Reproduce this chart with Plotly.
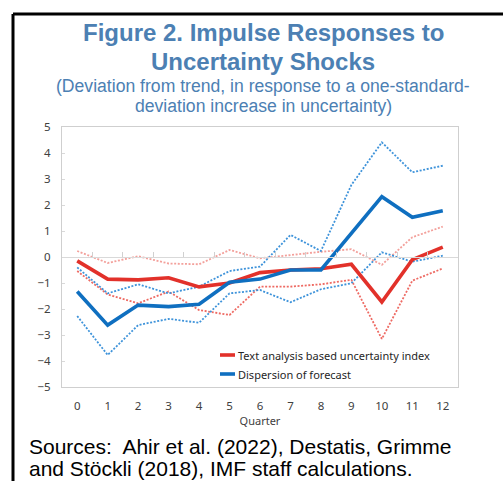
import plotly.graph_objects as go

# Quarters after the shock
quarters = list(range(13))
tick_labels = [str(q) for q in quarters]

# Text analysis based uncertainty index: point estimate and bands
text_mid = [-0.15, -0.85, -0.88, -0.8, -1.15, -1.0, -0.6, -0.5, -0.45, -0.28, -1.73, -0.1, 0.38]
text_hi = [0.23, -0.23, 0.03, -0.25, -0.28, 0.27, -0.05, 0.08, 0.2, 0.3, -0.3, 0.76, 1.17]
text_lo = [-0.54, -1.44, -1.78, -1.33, -2.04, -2.23, -1.14, -1.14, -1.05, -0.88, -3.15, -0.91, -0.44]

# Dispersion of forecast: point estimate and bands
disp_mid = [-1.33, -2.62, -1.85, -1.91, -1.82, -0.97, -0.85, -0.5, -0.5, 0.9, 2.32, 1.53, 1.78]
disp_hi = [-0.4, -1.4, -1.05, -1.4, -1.14, -0.54, -0.37, 0.85, 0.23, 2.77, 4.41, 3.26, 3.51]
disp_lo = [-2.27, -3.77, -2.62, -2.38, -2.53, -1.4, -1.27, -1.74, -1.24, -1.01, 0.18, -0.18, 0.05]

series_names = ["Text analysis based uncertainty index", "Dispersion of forecast"]

RED = "#E2312A"
RED_BAND_HI = "#F3A09B"
RED_BAND_LO = "#EE6A63"
BLUE = "#0F6FC0"
BLUE_BAND = "#3E93DA"
TITLE_BLUE = "#4C80B3"

W, H = 503, 481
ML, MR, MT, MB = 62, 45, 127, 94
PW, PH = W - ML - MR, H - MT - MB


def px_x(px):
    return (px - ML) / PW


def px_y(py):
    return (H - MB - py) / PH


fig = go.Figure()

band_dash = "2px,1.6px"
for ys, col in [(text_hi, RED_BAND_HI), (text_lo, RED_BAND_LO),
                (disp_hi, BLUE_BAND), (disp_lo, BLUE_BAND)]:
    fig.add_trace(go.Scatter(x=quarters, y=ys, mode="lines", showlegend=False,
                             line=dict(color=col, width=1.8, dash=band_dash),
                             hoverinfo="skip"))

fig.add_trace(go.Scatter(x=quarters, y=text_mid, mode="lines", name=series_names[0],
                         line=dict(color=RED, width=3.6), showlegend=False))
fig.add_trace(go.Scatter(x=quarters, y=disp_mid, mode="lines", name=series_names[1],
                         line=dict(color=BLUE, width=3.6), showlegend=False))

axis_font = dict(family="Noto Sans, Open Sans, sans-serif", size=11.5, color="#404040")

fig.update_layout(
    width=W, height=H,
    margin=dict(l=ML, r=MR, t=MT, b=MB),
    paper_bgcolor="white", plot_bgcolor="white",
    showlegend=False,
    xaxis=dict(range=[-0.5, 12.5], tickmode="array", tickvals=quarters, ticktext=tick_labels,
               showgrid=False, zeroline=False, showline=True, linecolor="#CFCFCF",
               linewidth=1.2, mirror=True, ticks="", tickfont=axis_font,
               ticklabelstandoff=8,
               title=dict(text="Quarter", font=dict(family="Noto Sans, sans-serif", size=11,
                                                    color="#404040"), standoff=4)),
    # axis drawn along zero with upward ticks between quarters
    xaxis2=dict(range=[-0.5, 12.5], overlaying="x", anchor="free", position=0.5,
                side="bottom", showline=True, linecolor="#D9D9D9", linewidth=1.2,
                tickmode="array", tickvals=[q + 0.5 for q in quarters[:-1]],
                ticks="inside", ticklen=5, tickcolor="#D0D0D0", tickwidth=1,
                showticklabels=False, showgrid=False, zeroline=False),
    yaxis=dict(range=[-5, 5], tickmode="array", tickvals=list(range(-5, 6)),
               showgrid=False, zeroline=False, showline=True, linecolor="#CFCFCF",
               linewidth=1.2, mirror=True, ticks="inside", ticklen=3,
               tickcolor="#D9D9D9", tickfont=axis_font, ticklabelstandoff=8),
)

# dummy trace so the zero-line axis is rendered
fig.add_trace(go.Scatter(x=[None], y=[None], xaxis="x2", showlegend=False, hoverinfo="skip"))

annotations = []
title_font = dict(family="Liberation Sans, Arial, sans-serif", size=24, color=TITLE_BLUE)
annotations.append(dict(text="<b>Figure 2. Impulse Responses to</b>", x=px_x(263), y=px_y(33),
                        font=title_font))
annotations.append(dict(text="<b>Uncertainty Shocks</b>", x=px_x(263), y=px_y(61),
                        font=title_font))
sub_font = dict(family="Liberation Sans, Arial, sans-serif", size=17.6, color=TITLE_BLUE)
annotations.append(dict(text="(Deviation from trend, in response to a one-standard-",
                        x=px_x(263), y=px_y(86), font=sub_font))
annotations.append(dict(text="deviation increase in uncertainty)", x=px_x(263), y=px_y(106),
                        font=sub_font))

src_font = dict(family="Liberation Sans, Arial, sans-serif", size=21, color="#000000")
annotations.append(dict(text="Sources:  Ahir et al. (2022), Destatis, Grimme",
                        x=px_x(27), y=px_y(446), xanchor="left", font=src_font))
annotations.append(dict(text="and Stöckli (2018), IMF staff calculations.",
                        x=px_x(27), y=px_y(468), xanchor="left", font=src_font))

# legend entries
leg_font = dict(family="Noto Sans, sans-serif", size=11, color="#262626")
shapes = []
for name, col, py in [(series_names[0], RED, 355), (series_names[1], BLUE, 374)]:
    shapes.append(dict(type="line", xref="paper", yref="paper",
                       x0=px_x(220), x1=px_x(235), y0=px_y(py), y1=px_y(py),
                       line=dict(color=col, width=3.6)))
    annotations.append(dict(text=name, x=px_x(236), y=px_y(py), xanchor="left",
                            font=leg_font))

for a in annotations:
    a.setdefault("xref", "paper")
    a.setdefault("yref", "paper")
    a.setdefault("showarrow", False)
    a.setdefault("yanchor", "middle")
    a.setdefault("xanchor", "center")

# outer frame on the top and left edges
shapes.append(dict(type="line", xref="paper", yref="paper", x0=px_x(13), x1=px_x(503),
                   y0=px_y(14), y1=px_y(14), line=dict(color="black", width=3)))
shapes.append(dict(type="line", xref="paper", yref="paper", x0=px_x(13), x1=px_x(13),
                   y0=px_y(14), y1=px_y(481), line=dict(color="black", width=3)))

fig.update_layout(annotations=annotations, shapes=shapes)

fig.write_html("out.html")
